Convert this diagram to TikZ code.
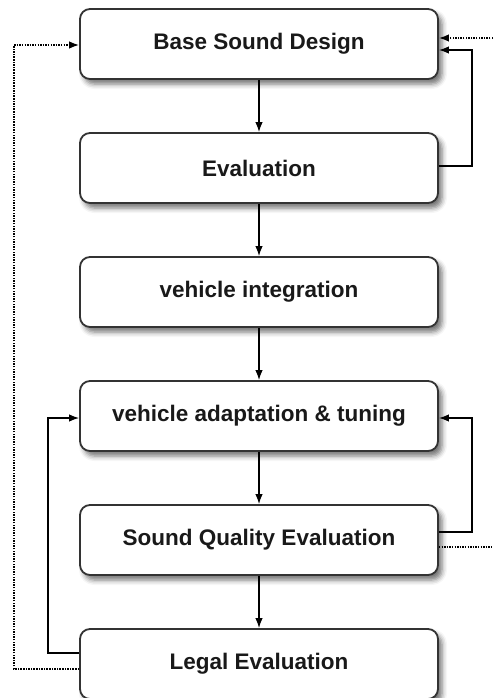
\documentclass[tikz,border=0pt]{standalone}
\usepackage{fontspec}
\setmainfont{Liberation Sans}
\usetikzlibrary{arrows.meta,shadows.blur,calc}
\begin{document}
\begin{tikzpicture}[x=1pt,y=-1pt,
  box/.style={draw=black!80, line width=1.8pt, fill=white, rounded corners=10pt,
    minimum width=358pt, minimum height=70pt, inner sep=0pt,
    font=\fontsize{22.5}{26}\selectfont\bfseries, text=black!90,
    blur shadow={shadow xshift=4pt, shadow yshift=-5pt, shadow blur radius=5pt, shadow opacity=55}},
  arr/.style={line width=1.4pt, -{Latex[length=10pt,width=7.5pt]}},
  dotarr/.style={line width=1.5pt, dash pattern=on 1.5pt off 1.1pt, -{Latex[length=10pt,width=7.5pt]}},
  dotline/.style={line width=1.5pt, dash pattern=on 1.5pt off 1.1pt}]
\useasboundingbox (0,0) rectangle (493,698);
\node[box] (b1) at (259,44) {Base Sound Design};
\node[box] (b2) at (259,168) {Evaluation};
\node[box] (b3) at (259,292) {vehicle integration};
\node[box] (b4) at (259,416) {vehicle adaptation \& tuning};
\node[box] (b5) at (259,540) {Sound Quality Evaluation};
\node[box] (b6) at (259,664) {Legal Evaluation};
\coordinate (in1) at (493,38);
\coordinate (out5) at (493,547);
\draw[arr] (b1) -- (b2);
\draw[arr] (b2) -- (b3);
\draw[arr] (b3) -- (b4);
\draw[arr] (b4) -- (b5);
\draw[arr] (b5) -- (b6);
\draw[arr] ([yshift=2pt]b2.east) -- ++(33,0) |- ([yshift=-6pt]b1.east);
\draw[dotarr] (in1) -- ([yshift=6pt]b1.east);
\draw[arr] ([yshift=8pt]b5.east) -- ++(33,0) |- ([yshift=-2pt]b4.east);
\draw[dotline] ([yshift=-7pt]b5.east) -- (out5);
\draw[arr] ([yshift=11pt]b6.west) -- ++(-31,0) |- ([yshift=-2pt]b4.west);
\draw[dotarr] ([yshift=-5pt]b6.west) -- ++(-65,0) |- ([yshift=-1pt]b1.west);
\end{tikzpicture}
\end{document}
